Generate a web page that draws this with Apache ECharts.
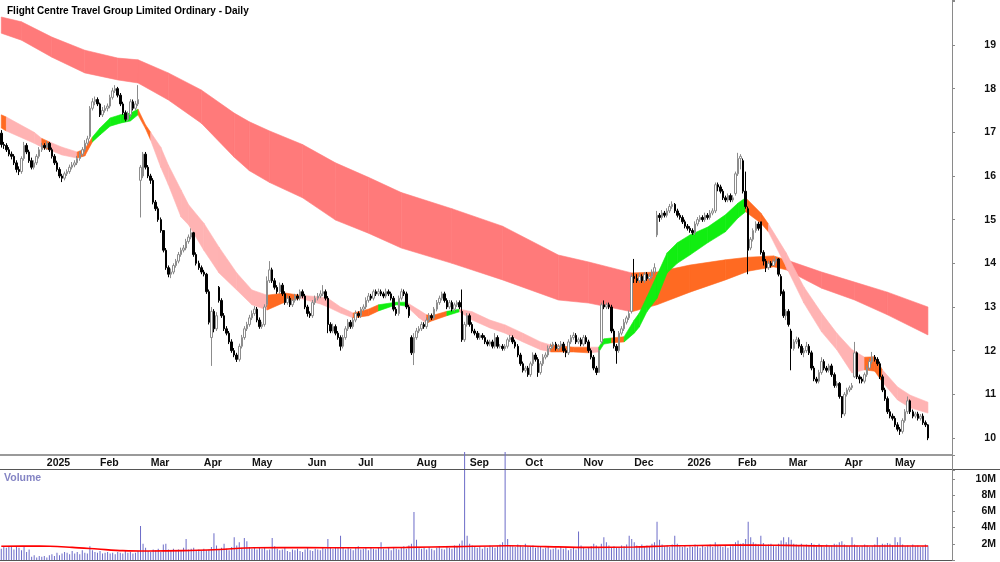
<!DOCTYPE html>
<html>
<head>
<meta charset="utf-8">
<script src="https://cdn.jsdelivr.net/npm/echarts@6/dist/echarts.min.js"></script>
<style>
  html, body { margin: 0; padding: 0; background: #fff; }
  #chart { width: 1000px; height: 562px; }
</style>
</head>
<body>
<div id="chart"></div>
<script>
// month labels and number of trading bars in each month (Dec 2024 is partial, May 2026 partial)
const monthNames = ['', '2025', 'Feb', 'Mar', 'Apr', 'May', 'Jun', 'Jul', 'Aug', 'Sep', 'Oct', 'Nov', 'Dec', '2026', 'Feb', 'Mar', 'Apr', 'May'];
const monthBars = [18, 21, 20, 21, 19, 22, 20, 23, 21, 22, 23, 20, 21, 20, 20, 22, 20, 14];
const emptyBarsRight = 9;

const opens = [
  16.98,16.72,16.70,16.60,16.50,16.45,16.30,16.15,16.10,16.40,
  16.70,16.55,16.35,16.20,16.30,16.45,16.60,16.70,16.65,16.75,
  16.60,16.45,16.30,16.15,16.00,15.95,16.05,16.10,16.20,16.25,
  16.30,16.40,16.50,16.60,16.75,16.90,17.55,17.70,17.75,17.65,
  17.40,17.50,17.55,17.60,17.80,17.95,18.00,17.85,17.65,17.45,
  17.30,17.40,17.70,17.55,17.65,15.90,16.00,16.50,16.20,16.00,
  15.90,15.40,15.25,15.00,14.75,14.30,13.90,13.75,13.80,13.95,
  14.05,14.20,14.30,14.35,14.50,14.60,14.70,14.20,14.00,13.90,
  13.80,13.75,13.35,12.30,12.90,12.50,13.45,13.15,12.80,12.50,
  12.40,12.20,12.00,11.90,11.80,12.10,12.30,12.50,12.60,12.75,
  12.85,12.95,12.70,12.55,12.60,13.05,13.60,13.85,13.60,13.45,
  13.35,13.50,13.30,13.10,13.20,13.05,13.15,13.25,13.20,13.35,
  13.25,13.00,12.85,12.80,13.10,13.20,13.25,13.30,13.35,13.20,
  12.60,12.45,12.55,12.40,12.30,12.10,12.30,12.50,12.65,12.55,
  12.70,12.85,12.80,12.95,13.00,13.15,13.25,13.20,13.35,13.30,
  13.35,13.30,13.25,13.35,13.30,13.20,12.95,12.85,13.20,13.35,
  13.30,13.00,12.30,11.95,12.30,12.45,12.50,12.60,12.55,12.70,
  12.80,12.75,12.95,13.10,13.20,13.30,13.15,13.00,13.10,12.95,
  13.05,13.10,12.90,12.25,12.60,12.80,12.60,12.45,12.40,12.30,
  12.35,12.30,12.20,12.15,12.20,12.10,12.30,12.10,12.10,12.05,
  12.10,12.25,12.30,12.20,12.10,11.90,11.70,11.55,11.60,11.45,
  11.70,11.90,11.80,11.50,11.70,11.85,11.90,12.05,12.10,12.15,
  12.05,12.10,12.15,12.00,11.95,12.20,12.30,12.35,12.20,12.25,
  12.15,12.30,12.20,12.00,11.85,11.60,11.50,12.20,13.05,13.00,
  13.05,13.00,12.45,12.10,12.00,12.40,12.50,12.65,12.75,12.90,
  13.70,13.65,13.60,13.70,13.60,13.75,13.65,13.70,13.80,14.65,
  15.10,15.05,15.15,15.10,15.20,15.30,15.35,15.20,15.10,15.05,
  14.95,14.85,14.80,14.75,14.70,14.90,15.00,15.05,15.00,15.10,
  15.05,15.15,15.20,15.80,15.75,15.65,15.50,15.45,15.55,15.45,
  15.60,16.05,16.40,16.35,15.65,15.25,14.35,14.55,14.75,14.90,
  14.95,14.25,14.05,13.90,14.00,13.95,14.05,14.10,13.70,13.35,
  12.80,12.90,12.45,12.05,12.20,12.25,12.10,11.95,12.00,12.10,
  11.95,11.60,11.35,11.30,11.50,11.75,11.60,11.55,11.65,11.45,
  11.20,11.25,10.95,10.55,11.00,11.10,11.15,11.40,11.95,11.40,
  11.35,11.30,11.45,11.60,11.75,11.85,11.80,11.70,11.40,11.10,
  10.90,10.60,10.50,10.45,10.30,10.20,10.15,10.40,10.60,10.85,
  10.60,10.50,10.55,10.45,10.50,10.35,10.30
];
const highs = [
  17.05,16.78,16.75,16.66,16.56,16.50,16.36,16.22,16.45,16.78,
  16.75,16.60,16.42,16.36,16.50,16.66,16.76,16.75,16.80,16.78,
  16.65,16.50,16.35,16.20,16.05,16.10,16.15,16.26,16.32,16.36,
  16.46,16.56,16.66,16.82,16.92,17.60,17.78,17.82,17.80,17.68,
  17.58,17.62,17.66,17.86,18.02,18.08,18.04,17.90,17.70,17.50,
  17.48,17.76,17.75,17.72,18.08,16.25,16.55,16.55,16.25,16.05,
  15.95,15.45,15.30,15.05,14.75,14.35,13.95,13.88,14.00,14.10,
  14.26,14.36,14.42,14.56,14.66,14.80,14.72,14.25,14.06,13.95,
  13.85,13.78,13.40,13.00,12.95,12.88,13.48,13.20,12.86,12.56,
  12.45,12.26,12.06,11.95,12.16,12.36,12.56,12.66,12.82,12.92,
  13.02,13.00,12.76,12.66,13.06,13.70,14.05,13.90,13.66,13.50,
  13.56,13.55,13.36,13.26,13.25,13.20,13.30,13.30,13.40,13.40,
  13.30,13.05,12.90,13.16,13.26,13.32,13.38,13.50,13.40,13.25,
  12.65,12.62,12.60,12.45,12.35,12.36,12.56,12.72,12.70,12.76,
  12.92,12.90,13.00,13.06,13.22,13.32,13.30,13.40,13.40,13.42,
  13.40,13.35,13.42,13.40,13.35,13.25,13.00,13.26,13.42,13.40,
  13.35,13.05,12.35,12.40,12.52,12.56,12.66,12.65,12.76,12.86,
  12.85,13.00,13.16,13.26,13.35,13.35,13.20,13.16,13.15,13.10,
  13.15,13.15,13.40,12.66,12.86,12.85,12.65,12.50,12.45,12.40,
  12.40,12.35,12.25,12.25,12.25,12.40,12.35,12.15,12.15,12.15,
  12.30,12.36,12.35,12.25,12.15,11.95,11.75,11.65,11.65,11.75,
  11.96,11.95,11.85,11.76,11.92,11.96,12.12,12.16,12.20,12.20,
  12.15,12.22,12.20,12.05,12.26,12.36,12.42,12.40,12.30,12.30,
  12.36,12.35,12.25,12.05,11.90,11.65,12.06,13.10,13.15,13.10,
  13.10,13.05,12.50,12.15,12.45,12.56,12.72,12.80,12.92,13.75,
  14.10,13.75,13.78,13.75,13.80,13.80,13.76,13.86,14.00,15.20,
  15.15,15.22,15.20,15.26,15.36,15.42,15.38,15.25,15.15,15.10,
  15.00,14.90,14.85,14.80,14.96,15.06,15.10,15.10,15.16,15.15,
  15.22,15.26,15.85,15.85,15.80,15.70,15.55,15.60,15.60,15.56,
  16.10,16.53,16.50,16.40,16.10,15.30,14.60,14.80,14.96,14.95,
  14.95,14.30,14.10,14.06,14.05,14.10,14.15,14.12,13.75,13.40,
  12.95,12.95,12.50,12.26,12.32,12.30,12.15,12.06,12.20,12.15,
  12.00,11.65,11.40,11.56,11.85,11.80,11.65,11.70,11.70,11.50,
  11.30,11.28,10.90,11.05,11.15,11.20,11.26,12.20,11.98,11.45,
  11.40,11.50,11.66,11.82,11.97,11.90,11.85,11.75,11.45,11.15,
  10.95,10.66,10.56,10.50,10.36,10.25,10.45,10.66,10.95,10.88,
  10.65,10.60,10.60,10.55,10.56,10.40,10.32
];
const lows = [
  16.65,16.62,16.55,16.45,16.38,16.25,16.08,16.02,16.05,16.35,
  16.50,16.30,16.15,16.15,16.25,16.40,16.55,16.60,16.60,16.55,
  16.40,16.25,16.10,15.95,15.86,15.90,16.00,16.05,16.15,16.20,
  16.25,16.35,16.45,16.55,16.70,16.85,17.50,17.62,17.60,17.35,
  17.35,17.45,17.48,17.55,17.75,17.90,17.80,17.60,17.40,17.25,
  17.25,17.35,17.50,17.50,17.60,15.05,15.95,16.15,15.95,15.82,
  15.35,15.20,14.95,14.70,14.25,13.85,13.68,13.66,13.75,13.90,
  14.00,14.15,14.25,14.30,14.45,14.55,14.15,13.95,13.85,13.75,
  13.70,13.30,12.60,11.65,12.42,12.45,13.10,12.75,12.45,12.35,
  12.15,11.95,11.85,11.74,11.75,12.05,12.25,12.45,12.55,12.70,
  12.80,12.65,12.50,12.50,12.55,13.00,13.55,13.55,13.40,13.30,
  13.30,13.25,13.05,13.05,13.00,13.00,13.10,13.15,13.15,13.20,
  12.95,12.78,12.75,12.75,13.05,13.15,13.20,13.25,13.15,12.40,
  12.40,12.40,12.35,12.25,12.00,12.05,12.25,12.45,12.50,12.50,
  12.65,12.75,12.75,12.90,12.95,13.10,13.15,13.15,13.25,13.25,
  13.25,13.20,13.20,13.25,13.15,12.90,12.80,12.80,13.15,13.25,
  12.95,12.75,11.90,11.67,12.25,12.40,12.45,12.50,12.50,12.65,
  12.70,12.70,12.90,13.05,13.15,13.10,12.95,12.95,12.90,12.90,
  13.00,12.95,12.20,12.20,12.55,12.55,12.40,12.35,12.25,12.25,
  12.25,12.15,12.10,12.10,12.05,12.05,12.05,12.05,12.00,12.00,
  12.05,12.20,12.15,12.05,11.85,11.65,11.50,11.50,11.40,11.40,
  11.65,11.75,11.40,11.45,11.65,11.80,11.85,12.00,12.05,12.00,
  12.00,12.05,11.95,11.85,11.90,12.15,12.25,12.15,12.15,12.10,
  12.10,12.15,11.95,11.80,11.55,11.44,11.50,12.15,12.95,12.95,
  12.95,12.40,12.05,11.70,11.95,12.35,12.45,12.60,12.70,12.85,
  13.55,13.55,13.55,13.55,13.55,13.60,13.60,13.65,13.75,14.60,
  14.95,15.00,15.05,15.05,15.15,15.25,15.15,15.05,15.00,14.90,
  14.80,14.75,14.70,14.65,14.65,14.85,14.95,14.95,14.95,15.00,
  15.00,15.10,15.15,15.65,15.60,15.45,15.40,15.40,15.40,15.40,
  15.55,16.00,16.15,15.60,15.25,13.75,14.30,14.50,14.70,14.75,
  14.20,13.95,13.80,13.85,13.90,13.95,14.00,13.70,13.25,12.75,
  12.70,12.55,11.55,12.00,12.15,12.05,11.90,11.85,11.95,11.90,
  11.55,11.30,11.25,11.25,11.45,11.55,11.50,11.50,11.40,11.15,
  11.15,10.90,10.46,10.50,10.95,11.05,11.10,11.38,11.35,11.25,
  11.25,11.25,11.40,11.55,11.70,11.75,11.65,11.35,11.05,10.85,
  10.55,10.45,10.40,10.25,10.15,10.07,10.10,10.35,10.55,10.55,
  10.45,10.45,10.40,10.40,10.30,10.25,9.95
];
const closes = [
  16.72,16.70,16.60,16.50,16.45,16.30,16.15,16.10,16.40,16.70,
  16.55,16.35,16.20,16.30,16.45,16.60,16.70,16.65,16.75,16.60,
  16.45,16.30,16.15,16.00,15.95,16.05,16.10,16.20,16.25,16.30,
  16.40,16.50,16.60,16.75,16.85,17.55,17.70,17.75,17.65,17.40,
  17.50,17.55,17.60,17.80,17.95,18.00,17.85,17.65,17.45,17.30,
  17.40,17.70,17.55,17.65,17.75,16.20,16.50,16.20,16.00,15.90,
  15.40,15.25,15.00,14.75,14.30,13.90,13.75,13.80,13.95,14.05,
  14.20,14.30,14.35,14.50,14.60,14.70,14.20,14.00,13.90,13.80,
  13.75,13.35,12.65,12.90,12.50,12.80,13.15,12.80,12.50,12.40,
  12.20,12.00,11.90,11.80,12.10,12.30,12.50,12.60,12.75,12.85,
  12.95,12.70,12.55,12.60,13.00,13.60,13.85,13.60,13.45,13.35,
  13.50,13.30,13.10,13.20,13.05,13.15,13.25,13.20,13.35,13.25,
  13.00,12.85,12.80,13.10,13.20,13.25,13.30,13.35,13.20,12.60,
  12.45,12.55,12.40,12.30,12.10,12.30,12.50,12.65,12.55,12.70,
  12.85,12.80,12.95,13.00,13.15,13.25,13.20,13.35,13.30,13.35,
  13.30,13.25,13.35,13.30,13.20,12.95,12.85,13.20,13.35,13.30,
  13.00,12.80,11.95,12.30,12.45,12.50,12.60,12.55,12.70,12.80,
  12.75,12.95,13.10,13.20,13.30,13.15,13.00,13.10,12.95,13.05,
  13.10,13.00,12.25,12.60,12.80,12.60,12.45,12.40,12.30,12.35,
  12.30,12.20,12.15,12.20,12.10,12.30,12.10,12.10,12.05,12.10,
  12.25,12.30,12.20,12.10,11.90,11.70,11.55,11.60,11.45,11.70,
  11.90,11.80,11.50,11.70,11.85,11.90,12.05,12.10,12.15,12.05,
  12.10,12.15,12.00,11.95,12.20,12.30,12.35,12.20,12.25,12.15,
  12.30,12.20,12.00,11.85,11.60,11.50,12.00,13.05,13.00,13.05,
  13.00,12.45,12.10,12.00,12.40,12.50,12.65,12.75,12.85,13.70,
  13.65,13.60,13.70,13.60,13.75,13.65,13.70,13.80,13.90,15.10,
  15.05,15.15,15.10,15.20,15.30,15.35,15.20,15.10,15.05,14.95,
  14.85,14.80,14.75,14.70,14.90,15.00,15.05,15.00,15.10,15.05,
  15.15,15.20,15.80,15.75,15.65,15.50,15.45,15.55,15.45,15.50,
  16.05,16.40,16.45,15.65,15.30,14.30,14.55,14.75,14.90,14.80,
  14.25,14.05,13.90,14.00,13.95,14.05,14.10,13.75,13.30,12.80,
  12.90,12.60,12.05,12.20,12.25,12.10,11.95,12.00,12.10,11.95,
  11.60,11.35,11.30,11.50,11.75,11.60,11.55,11.65,11.45,11.20,
  11.25,10.95,10.55,11.00,11.10,11.15,11.20,11.95,11.40,11.35,
  11.30,11.45,11.60,11.75,11.85,11.80,11.70,11.40,11.10,10.90,
  10.60,10.50,10.45,10.30,10.20,10.15,10.40,10.60,10.85,10.60,
  10.50,10.55,10.45,10.50,10.35,10.30,10.00
];

// daily volume, millions of shares
const volumes = [
  1.4,1.6,1.5,1.7,1.6,1.3,1.7,1.5,1.2,1.6,
  1.0,1.3,0.4,0.6,0.3,0.5,0.4,0.5,0.3,0.6,
  0.7,0.5,0.9,0.6,0.8,1.0,0.9,0.7,1.1,0.8,
  1.0,0.7,1.2,0.9,0.8,1.7,1.2,1.0,0.9,1.1,
  0.8,0.9,1.0,0.8,0.9,0.7,1.0,0.9,0.8,1.1,
  0.9,1.0,0.8,0.9,1.1,4.2,2.0,1.5,1.1,1.0,
  1.3,1.2,1.4,1.0,1.9,2.0,1.3,1.2,1.4,1.1,
  1.3,1.2,1.5,2.6,1.3,1.4,1.5,1.2,1.3,1.1,
  1.4,1.2,1.3,1.6,3.3,1.8,1.3,1.5,2.0,1.4,
  1.2,1.6,2.8,1.8,2.2,1.5,2.7,2.3,1.6,1.4,
  1.5,1.3,1.6,1.4,1.5,1.2,1.3,2.7,1.7,1.4,
  1.2,1.3,1.5,1.1,1.0,1.3,1.2,1.4,1.1,1.0,
  1.3,1.5,1.2,1.1,1.4,1.3,1.2,1.5,1.4,2.6,
  1.5,1.4,1.6,1.5,3.0,1.5,1.3,1.6,1.4,1.2,
  1.5,1.7,1.3,1.4,1.6,1.2,1.5,1.4,1.3,1.6,
  2.2,1.4,1.3,1.5,1.2,1.6,1.4,1.3,1.5,1.7,
  1.4,1.8,2.0,5.9,2.5,1.6,1.4,1.5,1.3,1.6,
  1.4,1.2,1.5,1.7,1.4,1.3,1.6,1.5,1.4,1.8,
  1.6,2.0,2.4,13.3,3.0,2.0,1.8,1.6,1.5,1.7,
  1.4,1.6,1.5,1.8,1.6,1.5,1.7,1.9,2.2,13.3,
  2.6,1.8,1.7,1.6,1.9,1.8,1.6,2.0,1.7,1.6,
  1.8,1.5,1.7,1.6,1.4,1.5,1.6,1.3,1.4,1.5,
  1.3,1.6,1.4,1.5,1.2,1.4,1.6,1.3,3.5,1.8,
  1.5,1.4,1.6,1.7,2.0,1.8,1.6,2.0,2.8,2.2,
  1.8,1.6,1.7,1.5,1.6,1.8,1.7,1.9,3.0,2.6,
  2.2,1.8,1.7,1.9,1.6,1.8,1.7,2.0,2.2,4.7,
  2.5,1.9,1.7,1.8,1.6,1.9,3.0,2.0,1.7,1.6,
  1.8,1.5,1.7,1.6,1.9,1.7,1.5,1.8,1.6,1.7,
  1.9,1.6,2.2,1.8,1.7,1.6,1.8,1.5,1.7,1.9,
  2.2,2.4,2.0,2.1,2.6,4.7,2.8,2.2,2.0,1.9,
  3.0,2.1,1.8,1.9,2.0,1.8,1.7,2.0,2.4,2.8,
  2.2,2.8,2.5,2.0,1.9,1.8,2.0,1.7,1.9,1.8,
  2.1,1.9,1.7,2.0,1.8,1.6,1.9,1.7,1.8,2.0,
  1.9,2.2,2.3,1.9,1.8,1.7,2.8,1.9,1.8,1.6,
  1.7,1.9,1.8,1.6,1.7,1.9,2.8,1.8,2.0,1.9,
  2.1,2.0,1.8,2.8,2.2,2.8,1.9,1.7,1.8,1.6,
  1.9,1.7,1.8,1.6,1.7,1.9,1.8
];
// volume moving average, [bar, millions]
const volAvg = [
  [0,1.70],[15,1.72],[28,1.55],[38,1.35],[48,1.15],[58,1.10],[72,1.15],[86,1.30],
  [100,1.50],[120,1.52],[140,1.50],[160,1.55],[180,1.65],[200,1.75],[215,1.65],
  [232,1.55],[250,1.60],[265,1.75],[280,1.80],[296,1.85],[310,1.80],[330,1.72],
  [350,1.72],[366,1.72]
];

// moving-average ribbons: [bar, upper, lower, colour of the segment that starts here]
const shortBand = [
  [0,17.40,17.10,'o'],[2,17.35,17.03,'p'],[13,17.00,16.75,'p'],[16,16.86,16.66,'o'],
  [19,16.78,16.60,'p'],[24,16.66,16.48,'p'],[30,16.55,16.41,'o'],[33,16.62,16.46,'o'],
  [36,16.89,16.78,'g'],[39,17.10,16.94,'g'],[43,17.33,17.14,'g'],[47,17.40,17.21,'g'],
  [51,17.44,17.26,'g'],[54,17.53,17.40,'o'],[57,17.17,17.08,'o'],[59,17.00,16.82,'p'],
  [63,16.66,16.20,'p'],[66,16.25,15.80,'p'],[71,15.68,15.06,'p'],[74,15.34,14.88,'p'],
  [80,14.92,14.30,'p'],[86,14.37,13.78,'p'],[93,13.78,13.39,'p'],[99,13.39,13.05,'p'],
  [105,13.27,12.93,'o'],[112,13.32,13.11,'o'],[118,13.27,13.20,'p'],[126,13.23,13.07,'p'],
  [129,13.20,13.00,'p'],[134,13.00,12.86,'p'],[139,12.86,12.75,'o'],[145,12.95,12.80,'o'],
  [149,13.05,12.91,'g'],[156,13.11,13.05,'g'],[160,13.11,13.02,'p'],[165,12.93,12.75,'p'],
  [168,12.82,12.63,'o'],[170,12.80,12.68,'o'],[176,12.90,12.80,'g'],[181,12.95,12.89,'p'],
  [186,12.89,12.70,'p'],[193,12.70,12.52,'p'],[199,12.59,12.40,'p'],[206,12.40,12.20,'p'],
  [213,12.20,12.02,'p'],[217,12.13,11.97,'o'],[226,12.08,11.97,'o'],[232,12.08,11.95,'p'],
  [236,12.08,11.97,'g'],[238,12.27,12.15,'g'],[241,12.29,12.18,'o'],[246,12.32,12.20,'g'],
  [250,12.70,12.40,'g'],[252,12.86,12.54,'g'],[255,13.23,12.89,'g'],[259,13.73,13.20,'g'],
  [263,14.24,13.78,'g'],[267,14.47,14.00,'g'],[272,14.65,14.19,'g'],[279,14.83,14.47,'g'],
  [286,15.11,14.72,'g'],[291,15.38,15.04,'g'],[294,15.50,15.18,'o'],[300,15.15,14.92,'o'],
  [303,14.90,14.72,'p'],[310,14.24,13.92,'p'],[317,13.46,13.09,'p'],[324,12.86,12.43,'p'],
  [330,12.40,12.02,'p'],[336,12.02,11.49,'p'],[341,11.85,11.56,'o'],[345,11.86,11.53,'o'],
  [348,11.56,11.28,'p'],[354,11.17,10.87,'p'],[359,10.98,10.69,'p'],[366,10.82,10.57,'p']
];
const longBand = [
  [0,19.64,19.27,'r'],[8,19.53,19.11,'r'],[20,19.18,18.72,'r'],[33,18.88,18.36,'r'],
  [46,18.70,18.20,'r'],[54,18.66,18.13,'r'],[66,18.36,17.74,'r'],[79,17.97,17.21,'r'],
  [92,17.44,16.43,'r'],[98,17.24,16.12,'r'],[106,17.03,15.85,'r'],[119,16.72,15.50,'r'],
  [132,16.30,14.99,'r'],[145,15.97,14.69,'r'],[158,15.62,14.35,'r'],[178,15.25,14.00,'r'],
  [198,14.85,13.62,'r'],[220,14.19,13.16,'r'],[232,14.03,13.09,'r'],[249,13.78,12.89,'o'],
  [259,13.80,13.05,'o'],[272,13.96,13.34,'o'],[286,14.08,13.62,'o'],[295,14.14,13.82,'o'],
  [305,14.17,13.92,'o'],[310,14.08,13.85,'r'],[324,13.80,13.43,'r'],[337,13.57,13.16,'r'],
  [350,13.34,12.82,'r'],[366,13.00,12.36,'r']
];

const bandColors = { p: '#ffb3b3', g: '#11ee11', o: '#ff6a22', r: '#ff7a7a' };
const font = 'Liberation Sans, Arial, sans-serif';

// categories: one per trading day plus empty space on the right
const cats = [];
const monthAt = {};
let n = 0;
monthBars.forEach((count, m) => {
  if (monthNames[m]) monthAt[n] = monthNames[m];
  for (let k = 0; k < count; k++) cats.push('d' + n++);
});
for (let k = 0; k < emptyBarsRight; k++) cats.push('d' + n++);

const isMonthStart = (i) => monthAt[i] !== undefined;

function bandSeries(name, pts, z) {
  return {
    name: name,
    type: 'custom',
    xAxisIndex: 0,
    yAxisIndex: 0,
    z: z,
    silent: true,
    data: pts.slice(0, -1).map(p => [p[0], p[1], p[2]]),
    renderItem: function (params, api) {
      const a = pts[params.dataIndex];
      const b = pts[params.dataIndex + 1];
      const col = bandColors[a[3]];
      return {
        type: 'polygon',
        shape: {
          points: [
            api.coord([a[0], a[1]]), api.coord([b[0], b[1]]),
            api.coord([b[0], b[2]]), api.coord([a[0], a[2]])
          ]
        },
        style: { fill: col, stroke: col, lineWidth: 0.6 }
      };
    }
  };
}

const chart = echarts.init(document.getElementById('chart'));
const option = {
  animation: false,
  textStyle: { fontFamily: font },
  title: {
    text: 'Flight Centre Travel Group Limited Ordinary - Daily',
    left: 2, top: 1,
    textStyle: { fontSize: 10, fontWeight: 'bold', color: '#000', fontFamily: font }
  },
  grid: [
    { left: 0, right: 48, top: 0, bottom: 107 },
    { left: 0, right: 48, top: 470, bottom: 2 }
  ],
  xAxis: [
    {
      type: 'category', gridIndex: 0, data: cats, boundaryGap: true,
      axisLine: { lineStyle: { color: '#9a9a9a', width: 2 } },
      axisTick: { interval: isMonthStart, length: 3, lineStyle: { color: '#666' } },
      axisLabel: {
        interval: isMonthStart,
        formatter: (v, i) => monthAt[i] || '',
        align: 'left', margin: 3,
        fontSize: 10.5, fontWeight: 'bold', color: '#111'
      },
      splitLine: { show: false }
    },
    {
      type: 'category', gridIndex: 1, data: cats, boundaryGap: true, position: 'top',
      axisLine: { lineStyle: { color: '#555', width: 1 } },
      axisTick: { show: false }, axisLabel: { show: false }, splitLine: { show: false }
    }
  ],
  yAxis: [
    {
      type: 'value', gridIndex: 0, position: 'right', min: 9.61, max: 20.03, splitNumber: 10,
      axisLine: { show: true, lineStyle: { color: '#8a8a8a' } },
      axisTick: { show: true, length: 3, lineStyle: { color: '#8a8a8a' } },
      splitLine: { show: false },
      axisLabel: {
        formatter: v => (Math.abs(v - Math.round(v)) < 1e-6 && v >= 10 && v <= 19) ? String(v) : '',
        align: 'right', margin: 44, fontSize: 10.5, fontWeight: 'bold', color: '#111'
      }
    },
    {
      type: 'value', gridIndex: 1, position: 'right', min: 0, max: 11.08, splitNumber: 5,
      axisLine: { show: true, lineStyle: { color: '#8a8a8a' } },
      axisTick: { show: true, length: 3, lineStyle: { color: '#8a8a8a' } },
      splitLine: { show: false },
      axisLabel: {
        formatter: v => ([2, 4, 6, 8, 10].indexOf(Math.round(v * 1000) / 1000) >= 0) ? v + 'M' : '',
        align: 'right', margin: 44, fontSize: 10.5, fontWeight: 'bold', color: '#111'
      }
    }
  ],
  graphic: [
    { type: 'line', shape: { x1: 0, y1: 469.5, x2: 1000, y2: 469.5 }, style: { stroke: '#555', lineWidth: 1 }, z: 10 },
    { type: 'line', shape: { x1: 952.5, y1: 455, x2: 952.5, y2: 470 }, style: { stroke: '#8a8a8a', lineWidth: 1 }, z: 10 },
    { type: 'text', left: 4, top: 473, style: { text: 'Volume', fill: '#8484c4', font: 'bold 10.5px ' + font }, z: 10 }
  ],
  series: [
    bandSeries('long', longBand, 1),
    bandSeries('short', shortBand, 2),
    {
      name: 'price', type: 'candlestick', xAxisIndex: 0, yAxisIndex: 0, z: 5,
      barWidth: 2,
      data: opens.map((o, i) => [o, closes[i], lows[i], highs[i]]),
      itemStyle: {
        color: '#ffffff', color0: '#000000',
        borderColor: '#8c8c8c', borderColor0: '#000000', borderWidth: 1
      }
    },
    {
      name: 'volume', type: 'bar', xAxisIndex: 1, yAxisIndex: 1,
      barWidth: 1, data: volumes, clip: false,
      itemStyle: { color: '#6c6cc8' }
    },
    {
      name: 'volume avg', type: 'line', xAxisIndex: 1, yAxisIndex: 1, z: 6,
      data: volAvg, showSymbol: false, smooth: 0.3,
      lineStyle: { color: '#ff0000', width: 1.6 }
    }
  ]
};
chart.setOption(option);
</script>
</body>
</html>
